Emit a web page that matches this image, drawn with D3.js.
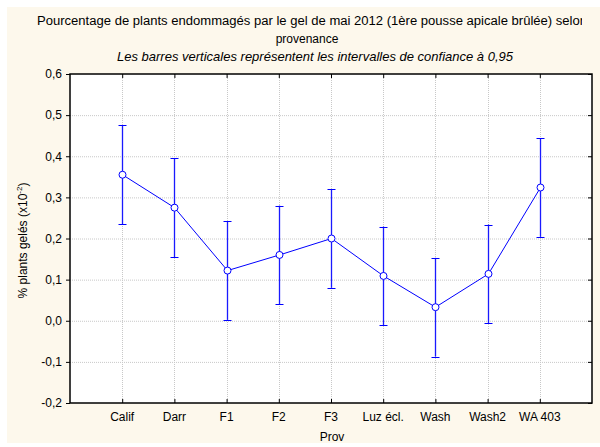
<!DOCTYPE html>
<html>
<head>
<meta charset="utf-8">
<script src="https://cdn.jsdelivr.net/npm/d3@7"></script>
<style>
  body { margin: 0; background: #fff; }
  text { font-family: "Liberation Sans", Arial, sans-serif; fill: #000; }
</style>
</head>
<body>
<div id="chart"></div>
<script>
var provs = ["Calif", "Darr", "F1", "F2", "F3", "Luz écl.", "Wash", "Wash2", "WA 403"]
var means = [0.355, 0.275, 0.122, 0.160, 0.200, 0.109, 0.033, 0.114, 0.324]
var upper = [0.475, 0.395, 0.242, 0.280, 0.320, 0.229, 0.153, 0.234, 0.444]
var lower = [0.235, 0.155, 0.002, 0.040, 0.080, -0.011, -0.087, -0.006, 0.204]
var yTicks = [-0.2, -0.1, 0.0, 0.1, 0.2, 0.3, 0.4, 0.5, 0.6]

var width = 600, height = 447
var margin = { top: 74, left: 70, right: 8, bottom: 44 }

var svg = d3.select("#chart").append("svg")
    .attr("width", width)
    .attr("height", height)

// cream panel
svg.append("rect")
    .attr("x", 7).attr("y", 7)
    .attr("width", width - 7).attr("height", 436)
    .attr("fill", "#fdf8ec")

var x = d3.scalePoint()
    .domain(provs)
    .range([margin.left, width - margin.right])
    .padding(1)

var y = d3.scaleLinear()
    .domain([-0.2, 0.6])
    .range([height - margin.bottom, margin.top])

var fmt = function(d) { return d3.format(".1f")(d).replace(".", ",").replace("−", "-") }

var x0 = margin.left, x1 = width - margin.right
var y0 = height - margin.bottom, y1 = margin.top

svg.append("rect")
    .attr("x", x0).attr("y", y1)
    .attr("width", x1 - x0).attr("height", y0 - y1)
    .attr("fill", "#fff")

// grid
svg.append("g").selectAll("line")
    .data(yTicks.slice(1, -1))
    .enter().append("line")
    .attr("x1", x0).attr("x2", x1)
    .attr("y1", function(d) { return y(d) + 0.5 })
    .attr("y2", function(d) { return y(d) + 0.5 })
    .attr("stroke", "#c8c8c8")
    .attr("stroke-dasharray", "1,1")

svg.append("g").selectAll("line")
    .data(provs)
    .enter().append("line")
    .attr("x1", function(d) { return Math.round(x(d)) + 0.5 })
    .attr("x2", function(d) { return Math.round(x(d)) + 0.5 })
    .attr("y1", y1).attr("y2", y0)
    .attr("stroke", "#c8c8c8")
    .attr("stroke-dasharray", "1,1")

// axes
var left = svg.append("g")
    .attr("transform", "translate(" + x0 + ",0)")
    .call(d3.axisLeft(y).tickValues(yTicks).tickFormat(fmt).tickSize(4).tickPadding(4))
left.select(".domain").remove()
left.selectAll("text").style("font-size", "12px").attr("fill", "#000")

svg.append("g")
    .attr("transform", "translate(" + x1 + ",0)")
    .call(d3.axisLeft(y).tickValues(yTicks).tickFormat("").tickSize(4))
    .select(".domain").remove()

var bottom = svg.append("g")
    .attr("transform", "translate(0," + y0 + ")")
    .call(d3.axisTop(x).tickSize(4).tickFormat(""))
bottom.select(".domain").remove()

svg.append("g")
    .attr("transform", "translate(0," + y1 + ")")
    .call(d3.axisBottom(x).tickSize(4).tickFormat(""))
    .select(".domain").remove()

svg.append("g").selectAll("text")
    .data(provs)
    .enter().append("text")
    .attr("x", function(d) { return x(d) })
    .attr("y", y0 + 18)
    .attr("text-anchor", "middle")
    .style("font-size", "12px")
    .text(function(d) { return d })

// frame
svg.append("rect")
    .attr("x", x0).attr("y", y1)
    .attr("width", x1 - x0).attr("height", y0 - y1)
    .attr("fill", "none")
    .attr("stroke", "#000")
    .attr("stroke-width", 1.5)

// error bars
var bars = svg.append("g")
provs.forEach(function(p, i) {
    var cx = Math.round(x(p)) + 0.5
    bars.append("line")
        .attr("x1", cx).attr("x2", cx)
        .attr("y1", y(upper[i])).attr("y2", y(lower[i]))
        .attr("stroke", "#1a1aff")
        .attr("stroke-width", 1.3)
    ;[upper[i], lower[i]].forEach(function(v) {
        bars.append("line")
            .attr("x1", cx - 4).attr("x2", cx + 4)
            .attr("y1", Math.round(y(v)) + 0.5).attr("y2", Math.round(y(v)) + 0.5)
            .attr("stroke", "#0000ff")
    })
})

var line = d3.line()
    .x(function(d, i) { return Math.round(x(provs[i])) + 0.5 })
    .y(function(d) { return y(d) })

svg.append("path")
    .datum(means)
    .attr("d", line)
    .attr("fill", "none")
    .attr("stroke", "#0000ff")

svg.append("g").selectAll("circle")
    .data(means)
    .enter().append("circle")
    .attr("cx", function(d, i) { return Math.round(x(provs[i])) + 0.5 })
    .attr("cy", function(d) { return y(d) })
    .attr("r", 3.5)
    .attr("fill", "#fff")
    .attr("stroke", "#0000ff")

// titles
svg.append("clipPath").attr("id", "tclip")
    .append("rect").attr("x", 0).attr("y", 0).attr("width", 582).attr("height", 40)

svg.append("text")
    .attr("clip-path", "url(#tclip)")
    .attr("x", 37).attr("y", 25)
    .style("font-size", "12px")
    .attr("textLength", 550)
    .attr("lengthAdjust", "spacingAndGlyphs")
    .text("Pourcentage de plants endommagés par le gel de mai 2012 (1ère pousse apicale brûlée) selon")

svg.append("text")
    .attr("x", 307).attr("y", 43)
    .attr("text-anchor", "middle")
    .style("font-size", "12px")
    .text("provenance")

svg.append("text")
    .attr("x", 315).attr("y", 61)
    .attr("text-anchor", "middle")
    .style("font-size", "13px")
    .style("font-style", "italic")
    .text("Les barres verticales représentent les intervalles de confiance à 0,95")

var yl = svg.append("text")
    .attr("transform", "translate(27," + (y(0.2) + 2) + ") rotate(-90)")
    .attr("text-anchor", "middle")
    .style("font-size", "12px")
yl.append("tspan").text("% plants gelés (x10")
yl.append("tspan").attr("dy", -5).style("font-size", "8px").text("-2")
yl.append("tspan").attr("dy", 5).text(")")

svg.append("text")
    .attr("x", x("F3") + 1).attr("y", 441)
    .attr("text-anchor", "middle")
    .style("font-size", "12px")
    .text("Prov")
</script>
</body>
</html>
